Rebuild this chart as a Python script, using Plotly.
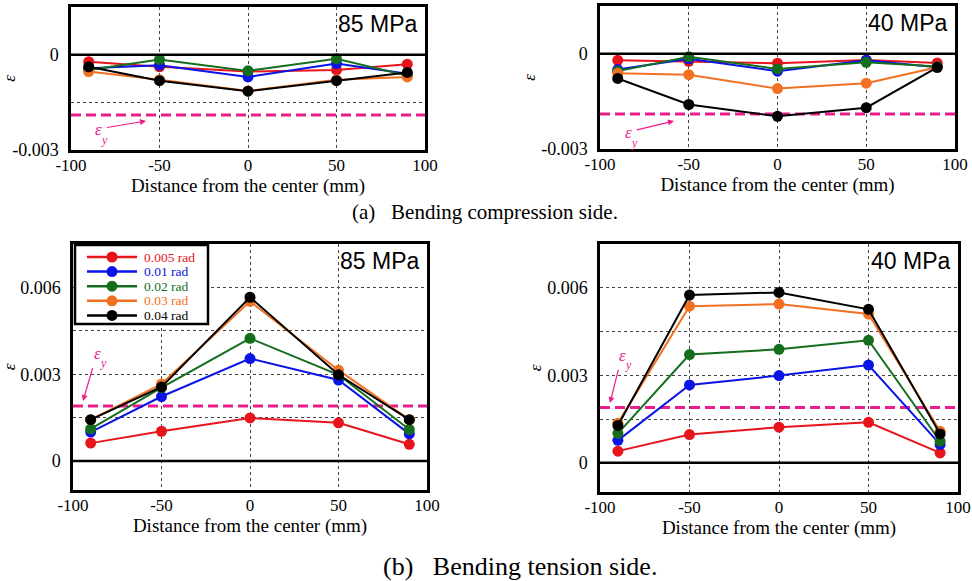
import plotly.graph_objects as go

W, H = 972, 581

# ---------------- data ----------------
x_pos = [-90, -50, 0, 50, 90]
series_names = ["0.005 rad", "0.01 rad", "0.02 rad", "0.03 rad", "0.04 rad"]
series_colors = ["#e8141c", "#0a14e6", "#146e1e", "#f27022", "#000000"]

# (a) bending compression side
comp_85 = [
    [-0.00022, -0.00038, -0.00053, -0.00048, -0.00030],
    [-0.00043, -0.00033, -0.00070, -0.00028, -0.00060],
    [-0.00048, -0.00015, -0.00051, -0.00013, -0.00066],
    [-0.00053, -0.00079, -0.00114, -0.00079, -0.00070],
    [-0.00038, -0.00082, -0.00115, -0.00082, -0.00056],
]
comp_40 = [
    [-0.00021, -0.00024, -0.00030, -0.00020, -0.00029],
    [-0.00050, -0.00016, -0.00055, -0.00021, -0.00043],
    [-0.00055, -0.00010, -0.00048, -0.00027, -0.00040],
    [-0.00062, -0.00066, -0.00110, -0.00093, -0.00043],
    [-0.00078, -0.00160, -0.00197, -0.00170, -0.00043],
]
# (b) bending tension side
tens_85 = [
    [0.00062, 0.00103, 0.00149, 0.00132, 0.00058],
    [0.00100, 0.00223, 0.00354, 0.00280, 0.00094],
    [0.00111, 0.00254, 0.00424, 0.00298, 0.00109],
    [0.00143, 0.00266, 0.00552, 0.00314, 0.00143],
    [0.00143, 0.00256, 0.00566, 0.00298, 0.00143],
]
tens_40 = [
    [0.00040, 0.00097, 0.00122, 0.00139, 0.00034],
    [0.00077, 0.00267, 0.00299, 0.00335, 0.00063],
    [0.00101, 0.00371, 0.00389, 0.00420, 0.00074],
    [0.00136, 0.00537, 0.00544, 0.00510, 0.00108],
    [0.00128, 0.00575, 0.00584, 0.00526, 0.00099],
]
yield_strain = 0.0019

x_ticks = [-100, -50, 0, 50, 100]
x_ticktext = ["-100", "-50", "0", "50", "100"]
comp_ticks = [0, -0.003]
comp_ticktext = ["0", "-0.003"]
tens_ticks = [0, 0.003, 0.006]
tens_ticktext = ["0", "0.003", "0.006"]

pressure_labels = ["85 MPa", "40 MPa", "85 MPa", "40 MPa"]
captions = ["(a)\u00a0\u00a0\u00a0Bending compression side.", "(b)\u00a0\u00a0\u00a0Bending tension side."]
x_title = "Distance from the center (mm)"
y_title = "ε"

SERIF = "Liberation Serif"
SANS = "Liberation Sans"
MAGENTA = "#ec1c8c"
GRID = "#444444"


def px(x):
    return x / W


def py(y):
    return 1 - y / H


# panel boxes in pixels: (left, top, right, bottom)
boxes = [
    (71, 7, 425, 150),
    (600, 6, 955, 149),
    (73, 244, 427, 490),
    (600, 244, 958, 492),
]
panels = [comp_85, comp_40, tens_85, tens_40]
yranges = [[-0.003, 0.0015], [-0.003, 0.0015], [-0.001, 0.0075], [-0.001, 0.0075]]
ytickvals = [comp_ticks, comp_ticks, tens_ticks, tens_ticks]
yticktexts = [comp_ticktext, comp_ticktext, tens_ticktext, tens_ticktext]
minor_grid = [True, False, True, True]
yield_vals = [-yield_strain, -yield_strain, yield_strain, yield_strain]

fig = go.Figure()
layout = dict(
    width=W, height=H,
    margin=dict(l=0, r=0, t=0, b=0, autoexpand=False),
    paper_bgcolor="white", plot_bgcolor="white",
    showlegend=False,
    font=dict(family=SERIF, size=17, color="black"),
)
shapes = []
annotations = []

for i, (box, data) in enumerate(zip(boxes, panels)):
    n = "" if i == 0 else str(i + 1)
    xa, ya = "x" + n, "y" + n
    # yield strain line drawn as a trace under the data
    fig.add_trace(go.Scatter(
        x=[-100, 100], y=[yield_vals[i], yield_vals[i]], mode="lines",
        line=dict(color=MAGENTA, width=3, dash="10px,5px"),
        xaxis=xa, yaxis=ya, showlegend=False, hoverinfo="skip",
    ))
    for name, color, ys in zip(series_names, series_colors, data):
        fig.add_trace(go.Scatter(
            x=x_pos, y=ys, mode="lines+markers", name=name,
            line=dict(color=color, width=2),
            marker=dict(color=color, size=11),
            xaxis=xa, yaxis=ya, showlegend=False,
        ))
    l, t, r, b = box
    axis_common = dict(
        showline=True, mirror=True, linecolor="black", linewidth=2.5,
        showgrid=True, gridcolor=GRID, gridwidth=1, griddash="dot",
        zeroline=False, ticks="",
        fixedrange=True, automargin=False,
    )
    layout["xaxis" + n] = dict(
        axis_common, domain=[px(l), px(r)], range=[-100, 100],
        tickmode="array", tickvals=x_ticks, ticktext=x_ticktext, anchor=ya,
        tickfont=dict(family=SERIF, size=17, color="black"),
        ticklabelstandoff=-2,
        title=dict(text=x_title, standoff=4, font=dict(family=SERIF, size=19, color="black")),
    )
    ydict = dict(
        axis_common, domain=[py(b), py(t)], range=yranges[i],
        tickmode="array", tickvals=ytickvals[i], ticktext=yticktexts[i], anchor=xa,
        tickfont=dict(family=SERIF, size=18, color="black"),
        ticklabelstandoff=6,
        title=dict(text=y_title, standoff=2,
                   font=dict(family=SERIF, size=17, color="black", style="italic")),
    )
    if minor_grid[i]:
        ydict["minor"] = dict(tickmode="linear", tick0=0, dtick=0.0015, showgrid=True,
                              gridcolor=GRID, gridwidth=1, griddash="dot", ticks="")
    layout["yaxis" + n] = ydict
    # zero line
    shapes.append(dict(type="line", xref="paper", yref=ya, x0=px(l), x1=px(r + 3),
                       y0=0, y1=0, line=dict(color="black", width=2.5), layer="above"))
    # pressure label
    annotations.append(dict(
        text=pressure_labels[i], xref="paper", yref="paper",
        x=px(r - 6), y=py(t + 17), xanchor="right", yanchor="middle",
        showarrow=False, font=dict(family=SANS, size=23, color="black"),
    ))

# epsilon_y labels with arrows: (epsilon center), (subscript center), (arrow head)
ey_marks = [
    ((98, 129), (104, 140), (146, 121)),
    ((628, 132), (634, 143), (674, 121)),
    ((97, 353), (103, 363), (83, 401)),
    ((622, 355), (628, 365), (610, 403)),
]
for (ec, sc, head) in ey_marks:
    annotations.append(dict(
        text="ε", xref="paper", yref="paper",
        x=px(head[0]), y=py(head[1]),
        ax=ec[0] - head[0], ay=ec[1] - head[1],
        showarrow=True, arrowhead=2, arrowsize=1, arrowwidth=1.2, arrowcolor=MAGENTA,
        startstandoff=4,
        font=dict(family=SERIF, size=17, color=MAGENTA, style="italic"),
    ))
    annotations.append(dict(
        text="y", xref="paper", yref="paper", x=px(sc[0]), y=py(sc[1]),
        xanchor="center", yanchor="middle", showarrow=False,
        font=dict(family=SERIF, size=12, color=MAGENTA, style="italic"),
    ))

# captions
annotations.append(dict(
    text=captions[0], xref="paper", yref="paper", x=px(485), y=py(212),
    xanchor="center", yanchor="middle", showarrow=False,
    font=dict(family=SERIF, size=21, color="black"),
))
annotations.append(dict(
    text=captions[1], xref="paper", yref="paper", x=px(520), y=py(566),
    xanchor="center", yanchor="middle", showarrow=False,
    font=dict(family=SERIF, size=26, color="black"),
))

# legend (drawn in bottom-left panel)
leg_l, leg_t, leg_r, leg_b = 75, 245, 208, 324
shapes.append(dict(type="rect", xref="paper", yref="paper",
                   x0=px(leg_l), x1=px(leg_r), y0=py(leg_b), y1=py(leg_t),
                   line=dict(color="black", width=2.5), fillcolor="white", layer="above"))
row0, row_step = 257, 14.6
for k, (name, color) in enumerate(zip(series_names, series_colors)):
    yy = row0 + k * row_step
    shapes.append(dict(type="line", xref="paper", yref="paper",
                       x0=px(87), x1=px(137), y0=py(yy), y1=py(yy),
                       line=dict(color=color, width=2.5), layer="above"))
    shapes.append(dict(type="circle", xref="paper", yref="paper",
                       x0=px(112 - 5.5), x1=px(112 + 5.5), y0=py(yy + 5.5), y1=py(yy - 5.5),
                       line=dict(color=color, width=0), fillcolor=color, layer="above"))
    annotations.append(dict(
        text=name, xref="paper", yref="paper", x=px(142), y=py(yy),
        xanchor="left", yanchor="middle", showarrow=False,
        font=dict(family=SERIF, size=13.5, color=color),
    ))

layout["shapes"] = shapes
layout["annotations"] = annotations
fig.update_layout(**layout)
fig.write_html("out.html")
